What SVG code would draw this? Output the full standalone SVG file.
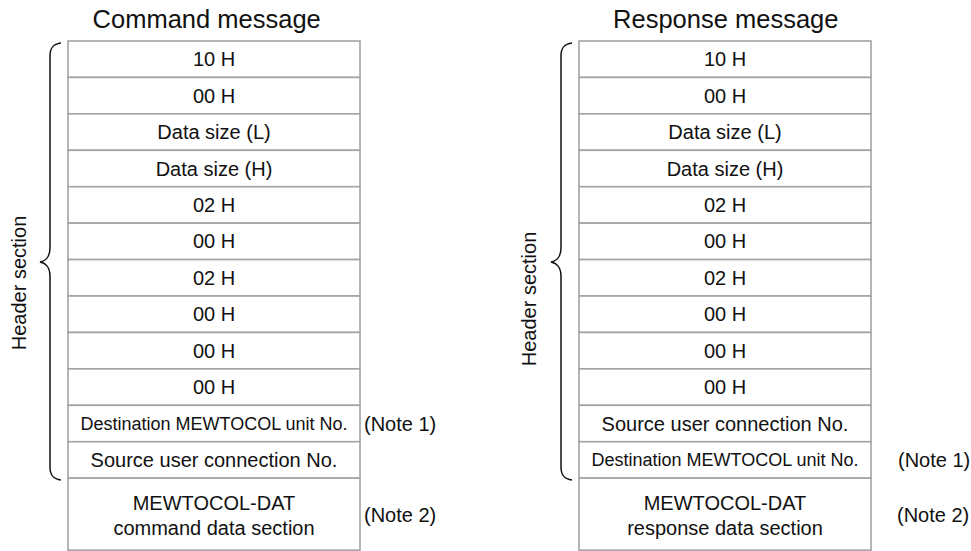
<svg xmlns="http://www.w3.org/2000/svg" width="971" height="551" viewBox="0 0 971 551">
<style>
text{font-family:"Liberation Sans",Arial,sans-serif;fill:#111;}
.title{font-size:25.5px;text-anchor:middle;}
.c{font-size:20px;text-anchor:middle;}
.s{font-size:18px;text-anchor:middle;}
.n{font-size:20px;}
.cell{fill:#fff;stroke:#a3a3a3;stroke-width:1.6;}
.brace{fill:none;stroke:#111;stroke-width:1.5;}
</style>
<rect width="971" height="551" fill="#fff"/>
<text class="title" x="206.7" y="27.5">Command message</text>
<text class="title" x="725.8" y="27.5">Response message</text>
<g id="cmd">
<g id="c1"><rect class="cell" x="68" y="41" width="292" height="36.43"/><text class="c" x="214" y="66.2">10 H</text></g>
<g id="c2"><rect class="cell" x="68" y="77.43" width="292" height="36.43"/><text class="c" x="214" y="102.6">00 H</text></g>
<g id="c3"><rect class="cell" x="68" y="113.86" width="292" height="36.43"/><text class="c" x="214" y="139.1">Data size (L)</text></g>
<g id="c4"><rect class="cell" x="68" y="150.29" width="292" height="36.43"/><text class="c" x="214" y="175.5">Data size (H)</text></g>
<g id="c5"><rect class="cell" x="68" y="186.72" width="292" height="36.43"/><text class="c" x="214" y="211.9">02 H</text></g>
<g id="c6"><rect class="cell" x="68" y="223.15" width="292" height="36.43"/><text class="c" x="214" y="248.4">00 H</text></g>
<g id="c7"><rect class="cell" x="68" y="259.58" width="292" height="36.43"/><text class="c" x="214" y="284.8">02 H</text></g>
<g id="c8"><rect class="cell" x="68" y="296.01" width="292" height="36.43"/><text class="c" x="214" y="321.2">00 H</text></g>
<g id="c9"><rect class="cell" x="68" y="332.44" width="292" height="36.43"/><text class="c" x="214" y="357.7">00 H</text></g>
<g id="c10"><rect class="cell" x="68" y="368.87" width="292" height="36.43"/><text class="c" x="214" y="394.1">00 H</text></g>
<g id="c11"><rect class="cell" x="68" y="405.3" width="292" height="36.43"/><text class="s" x="214" y="429.9">Destination MEWTOCOL unit No.</text></g>
<g id="c12"><rect class="cell" x="68" y="441.73" width="292" height="36.43"/><text class="c" x="214" y="466.9">Source user connection No.</text></g>
<g id="c13"><rect class="cell" x="68" y="478.16" width="292" height="72"/><text class="c" x="214" y="510">MEWTOCOL-DAT</text><text class="c" x="214" y="535">command data section</text></g>
<text class="n" x="364" y="430.5">(Note 1)</text>
<text class="n" x="364" y="521.6">(Note 2)</text>
<g id="cmdHeader"><path class="brace" d="M61 43 C53 44 50 48 50 56 L50 248 C50 256 46 261 40 262 C46 263 50 268 50 276 L50 467 C50 475 53 479 61 480"/><text class="c" transform="translate(25.5 283) rotate(-90)" x="0" y="0">Header section</text></g>
</g>
<g id="rsp">
<g id="r1"><rect class="cell" x="579" y="41" width="292" height="36.43"/><text class="c" x="725" y="66.2">10 H</text></g>
<g id="r2"><rect class="cell" x="579" y="77.43" width="292" height="36.43"/><text class="c" x="725" y="102.6">00 H</text></g>
<g id="r3"><rect class="cell" x="579" y="113.86" width="292" height="36.43"/><text class="c" x="725" y="139.1">Data size (L)</text></g>
<g id="r4"><rect class="cell" x="579" y="150.29" width="292" height="36.43"/><text class="c" x="725" y="175.5">Data size (H)</text></g>
<g id="r5"><rect class="cell" x="579" y="186.72" width="292" height="36.43"/><text class="c" x="725" y="211.9">02 H</text></g>
<g id="r6"><rect class="cell" x="579" y="223.15" width="292" height="36.43"/><text class="c" x="725" y="248.4">00 H</text></g>
<g id="r7"><rect class="cell" x="579" y="259.58" width="292" height="36.43"/><text class="c" x="725" y="284.8">02 H</text></g>
<g id="r8"><rect class="cell" x="579" y="296.01" width="292" height="36.43"/><text class="c" x="725" y="321.2">00 H</text></g>
<g id="r9"><rect class="cell" x="579" y="332.44" width="292" height="36.43"/><text class="c" x="725" y="357.7">00 H</text></g>
<g id="r10"><rect class="cell" x="579" y="368.87" width="292" height="36.43"/><text class="c" x="725" y="394.1">00 H</text></g>
<g id="r11"><rect class="cell" x="579" y="405.3" width="292" height="36.43"/><text class="c" x="725" y="430.5">Source user connection No.</text></g>
<g id="r12"><rect class="cell" x="579" y="441.73" width="292" height="36.43"/><text class="s" x="725" y="466.3">Destination MEWTOCOL unit No.</text></g>
<g id="r13"><rect class="cell" x="579" y="478.16" width="292" height="72"/><text class="c" x="725" y="510">MEWTOCOL-DAT</text><text class="c" x="725" y="535">response data section</text></g>
<text class="n" x="898" y="466.9">(Note 1)</text>
<text class="n" x="897" y="521.6">(Note 2)</text>
<g id="rspHeader"><path class="brace" d="M572 43 C564 44 561 48 561 56 L561 248 C561 256 557 261 551 262 C557 263 561 268 561 276 L561 467 C561 475 564 479 572 480"/><text class="c" transform="translate(535.5 299) rotate(-90)" x="0" y="0">Header section</text></g>
</g>
</svg>
